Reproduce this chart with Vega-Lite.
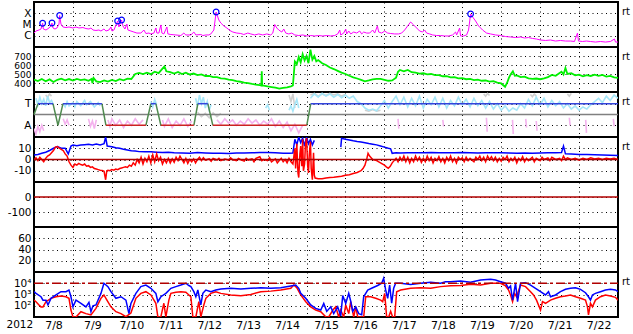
{
"$schema": "https://vega.github.io/schema/vega-lite/v6.json",
"padding": {"left": 5, "top": 1, "right": 0, "bottom": 0},
"background": "white",
"spacing": 0,
"bounds": "flush",
"datasets": {
"z": [{"d": 8}, {"d": 23}],
"one": [{"k": 1}],
"xr": [{"d":8.0,"l":-5.76},{"d":8.051,"l":-5.58},{"d":8.128,"l":-5.49},{"d":8.18,"l":-5.4},{"d":8.222,"l":-4.89},{"d":8.24,"l":-5.4},{"d":8.308,"l":-5.49},{"d":8.385,"l":-5.31},{"d":8.436,"l":-5.13},{"d":8.462,"l":-4.87},{"d":8.488,"l":-5.31},{"d":8.539,"l":-5.4},{"d":8.59,"l":-5.31},{"d":8.642,"l":-4.96},{"d":8.659,"l":-4.2},{"d":8.693,"l":-4.96},{"d":8.744,"l":-5.22},{"d":8.821,"l":-5.27},{"d":8.898,"l":-5.22},{"d":9.001,"l":-5.31},{"d":9.078,"l":-5.22},{"d":9.155,"l":-5.31},{"d":9.257,"l":-5.27},{"d":9.334,"l":-5.36},{"d":9.411,"l":-5.4},{"d":9.463,"l":-5.31},{"d":9.514,"l":-5.49},{"d":9.591,"l":-5.53},{"d":9.668,"l":-5.49},{"d":9.719,"l":-5.58},{"d":9.796,"l":-5.4},{"d":9.848,"l":-5.58},{"d":9.925,"l":-5.49},{"d":9.976,"l":-5.22},{"d":10.002,"l":-5.58},{"d":10.053,"l":-5.49},{"d":10.148,"l":-4.69},{"d":10.181,"l":-5.22},{"d":10.25,"l":-4.6},{"d":10.284,"l":-5.13},{"d":10.335,"l":-5.4},{"d":10.386,"l":-4.96},{"d":10.412,"l":-5.49},{"d":10.489,"l":-5.58},{"d":10.566,"l":-5.67},{"d":10.643,"l":-5.76},{"d":10.745,"l":-5.76},{"d":10.822,"l":-5.49},{"d":10.874,"l":-5.8},{"d":10.951,"l":-5.76},{"d":11.002,"l":-5.84},{"d":11.079,"l":-5.76},{"d":11.13,"l":-5.31},{"d":11.156,"l":-5.76},{"d":11.207,"l":-5.76},{"d":11.259,"l":-5.04},{"d":11.285,"l":-5.76},{"d":11.336,"l":-5.84},{"d":11.413,"l":-5.22},{"d":11.439,"l":-5.84},{"d":11.516,"l":-5.89},{"d":11.644,"l":-5.93},{"d":11.772,"l":-5.98},{"d":11.849,"l":-5.76},{"d":11.9,"l":-5.93},{"d":12.029,"l":-5.93},{"d":12.106,"l":-5.67},{"d":12.157,"l":-5.93},{"d":12.285,"l":-5.89},{"d":12.337,"l":-5.98},{"d":12.414,"l":-5.93},{"d":12.491,"l":-5.93},{"d":12.542,"l":-5.84},{"d":12.619,"l":-5.49},{"d":12.678,"l":-3.89},{"d":12.747,"l":-4.6},{"d":12.799,"l":-4.87},{"d":12.876,"l":-5.13},{"d":12.953,"l":-5.31},{"d":13.03,"l":-5.53},{"d":13.107,"l":-5.67},{"d":13.209,"l":-5.76},{"d":13.312,"l":-5.8},{"d":13.389,"l":-5.89},{"d":13.491,"l":-5.76},{"d":13.568,"l":-5.84},{"d":13.671,"l":-5.93},{"d":13.774,"l":-5.84},{"d":13.876,"l":-5.93},{"d":13.979,"l":-5.84},{"d":14.082,"l":-5.93},{"d":14.133,"l":-5.76},{"d":14.184,"l":-5.0},{"d":14.236,"l":-5.31},{"d":14.287,"l":-5.49},{"d":14.364,"l":-5.67},{"d":14.415,"l":-5.4},{"d":14.466,"l":-5.76},{"d":14.544,"l":-5.84},{"d":14.621,"l":-5.76},{"d":14.698,"l":-5.93},{"d":14.8,"l":-5.98},{"d":14.903,"l":-5.93},{"d":15.006,"l":-6.02},{"d":15.108,"l":-5.98},{"d":15.211,"l":-6.02},{"d":15.314,"l":-5.98},{"d":15.416,"l":-6.02},{"d":15.519,"l":-5.98},{"d":15.622,"l":-6.02},{"d":15.725,"l":-5.98},{"d":15.801,"l":-5.84},{"d":15.853,"l":-5.49},{"d":15.878,"l":-5.93},{"d":15.955,"l":-5.76},{"d":16.007,"l":-5.4},{"d":16.032,"l":-5.84},{"d":16.084,"l":-5.58},{"d":16.135,"l":-5.84},{"d":16.212,"l":-5.67},{"d":16.289,"l":-5.76},{"d":16.366,"l":-5.58},{"d":16.417,"l":-5.84},{"d":16.468,"l":-5.67},{"d":16.545,"l":-5.76},{"d":16.622,"l":-5.76},{"d":16.699,"l":-5.49},{"d":16.751,"l":-5.76},{"d":16.82,"l":-5.13},{"d":16.853,"l":-5.67},{"d":16.93,"l":-5.76},{"d":17.007,"l":-5.58},{"d":17.084,"l":-5.76},{"d":17.161,"l":-5.8},{"d":17.264,"l":-5.84},{"d":17.366,"l":-5.84},{"d":17.443,"l":-5.76},{"d":17.52,"l":-5.49},{"d":17.597,"l":-5.13},{"d":17.674,"l":-4.78},{"d":17.751,"l":-5.04},{"d":17.828,"l":-5.31},{"d":17.905,"l":-5.58},{"d":17.982,"l":-5.67},{"d":18.033,"l":-5.49},{"d":18.085,"l":-5.76},{"d":18.162,"l":-5.84},{"d":18.239,"l":-5.93},{"d":18.341,"l":-5.98},{"d":18.444,"l":-5.98},{"d":18.547,"l":-6.02},{"d":18.649,"l":-6.02},{"d":18.752,"l":-5.93},{"d":18.829,"l":-5.67},{"d":18.855,"l":-5.93},{"d":18.932,"l":-5.31},{"d":18.957,"l":-6.02},{"d":19.034,"l":-6.02},{"d":19.111,"l":-5.93},{"d":19.162,"l":-5.49},{"d":19.214,"l":-4.07},{"d":19.265,"l":-4.33},{"d":19.342,"l":-4.69},{"d":19.419,"l":-5.13},{"d":19.522,"l":-5.49},{"d":19.624,"l":-5.76},{"d":19.727,"l":-5.84},{"d":19.855,"l":-5.93},{"d":19.984,"l":-5.98},{"d":20.112,"l":-6.07},{"d":20.24,"l":-6.11},{"d":20.369,"l":-6.16},{"d":20.497,"l":-6.11},{"d":20.6,"l":-6.2},{"d":20.702,"l":-6.16},{"d":20.805,"l":-6.24},{"d":20.907,"l":-6.29},{"d":21.01,"l":-6.38},{"d":21.138,"l":-6.42},{"d":21.267,"l":-6.38},{"d":21.395,"l":-6.47},{"d":21.523,"l":-6.42},{"d":21.652,"l":-6.47},{"d":21.78,"l":-6.47},{"d":21.882,"l":-6.51},{"d":21.959,"l":-5.76},{"d":21.985,"l":-6.47},{"d":22.088,"l":-6.51},{"d":22.19,"l":-6.47},{"d":22.293,"l":-6.51},{"d":22.421,"l":-6.56},{"d":22.55,"l":-6.51},{"d":22.678,"l":-6.56},{"d":22.806,"l":-6.51},{"d":22.909,"l":-6.29},{"d":22.935,"l":-6.56},{"d":23.0,"l":-6.56}],
"fl": [{"d":8.222,"l":-4.89},{"d":8.462,"l":-4.87},{"d":8.659,"l":-4.2},{"d":10.148,"l":-4.69},{"d":10.25,"l":-4.6},{"d":12.678,"l":-3.89},{"d":19.214,"l":-4.07}],
"sw": [{"d":8.0,"v":438},{"d":8.1,"v":422},{"d":8.2,"v":445},{"d":8.3,"v":420},{"d":8.4,"v":440},{"d":8.5,"v":412},{"d":8.6,"v":436},{"d":8.7,"v":448},{"d":8.8,"v":430},{"d":8.9,"v":444},{"d":9.0,"v":428},{"d":9.1,"v":445},{"d":9.2,"v":432},{"d":9.3,"v":440},{"d":9.4,"v":425},{"d":9.48,"v":445},{"d":9.5,"v":398},{"d":9.53,"v":455},{"d":9.6,"v":418},{"d":9.7,"v":410},{"d":9.8,"v":428},{"d":9.9,"v":415},{"d":10.0,"v":435},{"d":10.1,"v":422},{"d":10.2,"v":442},{"d":10.3,"v":430},{"d":10.4,"v":448},{"d":10.5,"v":445},{"d":10.6,"v":500},{"d":10.7,"v":512},{"d":10.8,"v":500},{"d":10.9,"v":515},{"d":11.0,"v":498},{"d":11.1,"v":525},{"d":11.2,"v":510},{"d":11.3,"v":560},{"d":11.35,"v":585},{"d":11.4,"v":530},{"d":11.5,"v":520},{"d":11.6,"v":505},{"d":11.7,"v":522},{"d":11.8,"v":500},{"d":11.9,"v":515},{"d":12.0,"v":495},{"d":12.1,"v":505},{"d":12.2,"v":488},{"d":12.3,"v":495},{"d":12.4,"v":478},{"d":12.5,"v":480},{"d":12.6,"v":465},{"d":12.7,"v":466},{"d":12.8,"v":452},{"d":12.9,"v":448},{"d":13.0,"v":438},{"d":13.1,"v":432},{"d":13.2,"v":422},{"d":13.3,"v":414},{"d":13.4,"v":405},{"d":13.5,"v":398},{"d":13.6,"v":390},{"d":13.7,"v":383},{"d":13.8,"v":376},{"d":13.84,"v":372},{"d":13.85,"v":530},{"d":13.86,"v":372},{"d":13.9,"v":370},{"d":14.0,"v":362},{"d":14.1,"v":355},{"d":14.2,"v":348},{"d":14.3,"v":338},{"d":14.4,"v":345},{"d":14.5,"v":352},{"d":14.6,"v":362},{"d":14.65,"v":372},{"d":14.7,"v":640},{"d":14.75,"v":610},{"d":14.8,"v":690},{"d":14.85,"v":630},{"d":14.9,"v":720},{"d":14.95,"v":650},{"d":15.0,"v":700},{"d":15.05,"v":620},{"d":15.1,"v":770},{"d":15.15,"v":660},{"d":15.2,"v":700},{"d":15.25,"v":640},{"d":15.3,"v":655},{"d":15.4,"v":620},{"d":15.5,"v":600},{"d":15.6,"v":572},{"d":15.7,"v":555},{"d":15.8,"v":535},{"d":15.9,"v":515},{"d":16.0,"v":500},{"d":16.1,"v":480},{"d":16.2,"v":462},{"d":16.3,"v":450},{"d":16.4,"v":435},{"d":16.5,"v":418},{"d":16.6,"v":428},{"d":16.7,"v":440},{"d":16.8,"v":445},{"d":16.9,"v":446},{"d":17.0,"v":436},{"d":17.1,"v":425},{"d":17.2,"v":428},{"d":17.3,"v":460},{"d":17.35,"v":525},{"d":17.4,"v":545},{"d":17.5,"v":530},{"d":17.6,"v":545},{"d":17.7,"v":520},{"d":17.8,"v":515},{"d":17.9,"v":505},{"d":18.0,"v":508},{"d":18.1,"v":495},{"d":18.2,"v":500},{"d":18.3,"v":488},{"d":18.4,"v":488},{"d":18.5,"v":475},{"d":18.6,"v":476},{"d":18.7,"v":462},{"d":18.8,"v":465},{"d":18.9,"v":452},{"d":19.0,"v":455},{"d":19.1,"v":442},{"d":19.2,"v":445},{"d":19.3,"v":432},{"d":19.4,"v":438},{"d":19.5,"v":425},{"d":19.6,"v":428},{"d":19.7,"v":415},{"d":19.8,"v":420},{"d":19.9,"v":405},{"d":20.0,"v":395},{"d":20.1,"v":358},{"d":20.15,"v":400},{"d":20.2,"v":460},{"d":20.25,"v":500},{"d":20.3,"v":530},{"d":20.35,"v":480},{"d":20.4,"v":485},{"d":20.5,"v":465},{"d":20.6,"v":470},{"d":20.7,"v":452},{"d":20.8,"v":445},{"d":20.9,"v":450},{"d":21.0,"v":442},{"d":21.1,"v":452},{"d":21.2,"v":465},{"d":21.3,"v":490},{"d":21.4,"v":480},{"d":21.5,"v":510},{"d":21.55,"v":525},{"d":21.6,"v":495},{"d":21.65,"v":566},{"d":21.7,"v":500},{"d":21.8,"v":508},{"d":21.9,"v":485},{"d":22.0,"v":492},{"d":22.1,"v":475},{"d":22.2,"v":488},{"d":22.3,"v":478},{"d":22.4,"v":492},{"d":22.5,"v":480},{"d":22.6,"v":490},{"d":22.7,"v":472},{"d":22.8,"v":478},{"d":22.9,"v":462},{"d":23.0,"v":458}],
"secT": [{"d":8.103,"s":1,"g":1},{"d":8.488,"s":1,"g":1},{"d":8.744,"s":1,"g":2},{"d":9.745,"s":1,"g":2},{"d":11.002,"s":1,"g":3},{"d":11.13,"s":1,"g":3},{"d":12.208,"s":1,"g":4},{"d":12.465,"s":1,"g":4},{"d":15.108,"s":1,"g":5},{"d":23,"s":1,"g":5}],
"secA": [{"d":9.848,"s":-1,"g":1},{"d":10.874,"s":-1,"g":1},{"d":11.259,"s":-1,"g":2},{"d":12.106,"s":-1,"g":2},{"d":12.593,"s":-1,"g":3},{"d":15.006,"s":-1,"g":3}],
"secG": [{"d":8.0,"s":0,"g":1},{"d":8.103,"s":1,"g":1},{"d":8.488,"s":1,"g":2},{"d":8.616,"s":-1,"g":2},{"d":8.744,"s":1,"g":2},{"d":9.745,"s":1,"g":3},{"d":9.848,"s":-1,"g":3},{"d":10.874,"s":-1,"g":4},{"d":11.002,"s":1,"g":4},{"d":11.13,"s":1,"g":5},{"d":11.259,"s":-1,"g":5},{"d":12.106,"s":-1,"g":6},{"d":12.208,"s":1,"g":6},{"d":12.465,"s":1,"g":7},{"d":12.593,"s":-1,"g":7},{"d":15.006,"s":-1,"g":8},{"d":15.108,"s":1,"g":8}],
"lb": [{"d":8.05,"s":1.5,"g":1},{"d":8.1,"s":0.9,"g":1},{"d":8.15,"s":1.6,"g":1},{"d":8.2,"s":1.0,"g":1},{"d":8.25,"s":1.4,"g":1},{"d":8.3,"s":0.8,"g":1},{"d":8.35,"s":1.7,"g":1},{"d":8.4,"s":1.1,"g":1},{"d":8.45,"s":1.3,"g":1},{"d":8.5,"s":0.9,"g":1},
{"d":8.75,"s":1.0,"g":2},{"d":8.8,"s":0.7,"g":2},{"d":8.85,"s":1.2,"g":2},{"d":8.9,"s":0.8,"g":2},{"d":9.0,"s":1.1,"g":2},{"d":9.05,"s":0.7,"g":2},{"d":9.1,"s":1.2,"g":2},{"d":9.2,"s":0.8,"g":2},{"d":9.3,"s":1.3,"g":2},{"d":9.35,"s":0.9,"g":2},{"d":9.45,"s":1.2,"g":2},{"d":9.55,"s":0.7,"g":2},{"d":9.65,"s":1.1,"g":2},{"d":9.7,"s":0.8,"g":2},
{"d":11.0,"s":1.2,"g":3},{"d":11.05,"s":0.7,"g":3},{"d":11.1,"s":1.4,"g":3},{"d":11.15,"s":0.9,"g":3},
{"d":12.15,"s":1.5,"g":4},{"d":12.2,"s":0.8,"g":4},{"d":12.25,"s":1.8,"g":4},{"d":12.3,"s":1.0,"g":4},{"d":12.35,"s":1.6,"g":4},{"d":12.4,"s":0.6,"g":4},{"d":12.45,"s":1.2,"g":4},{"d":12.5,"s":0.4,"g":4},{"d":12.55,"s":0.9,"g":4},
{"d":13.95,"s":0.6,"g":5},{"d":14.0,"s":0.9,"g":5},{"d":14.05,"s":0.4,"g":5},
{"d":14.55,"s":0.4,"g":6},{"d":14.6,"s":0.8,"g":6},{"d":14.65,"s":0.3,"g":6},{"d":14.7,"s":0.9,"g":6},{"d":14.75,"s":1.4,"g":6},{"d":14.8,"s":0.6,"g":6},
{"d":15.1,"s":1.5,"g":7},{"d":15.2,"s":1.9,"g":7},{"d":15.3,"s":1.6,"g":7},{"d":15.4,"s":1.95,"g":7},{"d":15.5,"s":1.7,"g":7},{"d":15.6,"s":1.9,"g":7},{"d":15.7,"s":1.6,"g":7},{"d":15.8,"s":1.85,"g":7},{"d":15.9,"s":1.55,"g":7},{"d":16.0,"s":1.8,"g":7},{"d":16.1,"s":1.5,"g":7},{"d":16.2,"s":1.7,"g":7},{"d":16.3,"s":1.2,"g":7},{"d":16.4,"s":1.0,"g":7},{"d":16.5,"s":0.6,"g":7},{"d":16.6,"s":0.4,"g":7},{"d":16.7,"s":0.5,"g":7},{"d":16.8,"s":0.35,"g":7},{"d":16.9,"s":0.8,"g":7},{"d":17.0,"s":1.3,"g":7},{"d":17.1,"s":0.6,"g":7},{"d":17.2,"s":1.2,"g":7},{"d":17.3,"s":1.7,"g":7},{"d":17.4,"s":0.9,"g":7},{"d":17.5,"s":1.6,"g":7},{"d":17.6,"s":0.7,"g":7},{"d":17.7,"s":1.5,"g":7},{"d":17.8,"s":0.8,"g":7},{"d":17.9,"s":1.7,"g":7},{"d":18.0,"s":0.6,"g":7},{"d":18.1,"s":1.4,"g":7},{"d":18.2,"s":0.9,"g":7},{"d":18.3,"s":1.6,"g":7},{"d":18.4,"s":0.7,"g":7},{"d":18.5,"s":1.5,"g":7},{"d":18.6,"s":0.6,"g":7},{"d":18.7,"s":1.3,"g":7},{"d":18.8,"s":0.8,"g":7},{"d":18.9,"s":1.6,"g":7},{"d":19.0,"s":0.9,"g":7},{"d":19.1,"s":1.4,"g":7},{"d":19.2,"s":0.7,"g":7},{"d":19.3,"s":1.5,"g":7},{"d":19.4,"s":0.8,"g":7},{"d":19.5,"s":1.3,"g":7},{"d":19.6,"s":0.6,"g":7},{"d":19.7,"s":1.2,"g":7},{"d":19.8,"s":0.5,"g":7},{"d":19.9,"s":1.0,"g":7},{"d":20.0,"s":0.4,"g":7},{"d":20.1,"s":0.8,"g":7},{"d":20.2,"s":0.3,"g":7},{"d":20.3,"s":0.6,"g":7},{"d":20.4,"s":0.4,"g":7},{"d":20.5,"s":1.0,"g":7},{"d":20.6,"s":0.6,"g":7},{"d":20.7,"s":1.4,"g":7},{"d":20.8,"s":0.8,"g":7},{"d":20.9,"s":1.6,"g":7},{"d":21.0,"s":0.9,"g":7},{"d":21.1,"s":1.5,"g":7},{"d":21.2,"s":0.7,"g":7},{"d":21.3,"s":1.3,"g":7},{"d":21.4,"s":0.8,"g":7},{"d":21.5,"s":1.2,"g":7},{"d":21.6,"s":0.6,"g":7},{"d":21.7,"s":1.0,"g":7},{"d":21.8,"s":0.5,"g":7},{"d":21.9,"s":0.8,"g":7},{"d":22.0,"s":0.4,"g":7},{"d":22.1,"s":0.7,"g":7},{"d":22.2,"s":0.5,"g":7},{"d":22.3,"s":0.9,"g":7},{"d":22.4,"s":1.2,"g":7},{"d":22.5,"s":1.5,"g":7},{"d":22.6,"s":1.1,"g":7},{"d":22.7,"s":1.7,"g":7},{"d":22.8,"s":1.3,"g":7},{"d":22.9,"s":1.8,"g":7},{"d":23.0,"s":1.5,"g":7}],
"pk": [{"d":8.0,"s":-1.3,"g":1},{"d":8.05,"s":-1.8,"g":1},{"d":8.1,"s":-1.1,"g":1},{"d":8.15,"s":-1.6,"g":1},{"d":8.2,"s":-1.0,"g":1},{"d":8.25,"s":-1.5,"g":1},
{"d":8.75,"s":-0.4,"g":2},{"d":8.8,"s":-0.9,"g":2},{"d":8.85,"s":-0.5,"g":2},{"d":8.9,"s":-1.0,"g":2},
{"d":9.4,"s":-0.4,"g":3},{"d":9.45,"s":-1.1,"g":3},{"d":9.5,"s":-0.6,"g":3},{"d":9.55,"s":-1.3,"g":3},{"d":9.6,"s":-0.5,"g":3},
{"d":9.9,"s":-0.5,"g":4},{"d":9.95,"s":-1.1,"g":4},{"d":10.0,"s":-0.4,"g":4},{"d":10.1,"s":-1.0,"g":4},{"d":10.2,"s":-0.5,"g":4},{"d":10.3,"s":-1.2,"g":4},{"d":10.4,"s":-0.6,"g":4},{"d":10.5,"s":-1.0,"g":4},{"d":10.6,"s":-0.4,"g":4},{"d":10.7,"s":-0.9,"g":4},{"d":10.8,"s":-0.5,"g":4},
{"d":11.3,"s":-0.5,"g":5},{"d":11.35,"s":-1.1,"g":5},{"d":11.45,"s":-0.4,"g":5},{"d":11.55,"s":-1.2,"g":5},{"d":11.65,"s":-0.6,"g":5},{"d":11.75,"s":-1.0,"g":5},{"d":11.85,"s":-0.4,"g":5},{"d":11.95,"s":-1.1,"g":5},{"d":12.05,"s":-0.6,"g":5},
{"d":12.7,"s":-0.5,"g":6},{"d":12.8,"s":-0.9,"g":6},{"d":12.9,"s":-0.4,"g":6},{"d":13.0,"s":-0.8,"g":6},{"d":13.1,"s":-0.5,"g":6},{"d":13.2,"s":-1.0,"g":6},{"d":13.3,"s":-0.6,"g":6},{"d":13.4,"s":-0.9,"g":6},{"d":13.5,"s":-0.4,"g":6},{"d":13.6,"s":-0.8,"g":6},{"d":13.7,"s":-0.5,"g":6},{"d":13.8,"s":-1.0,"g":6},{"d":13.9,"s":-0.6,"g":6},{"d":14.0,"s":-0.9,"g":6},{"d":14.1,"s":-0.4,"g":6},{"d":14.2,"s":-1.1,"g":6},{"d":14.3,"s":-0.6,"g":6},{"d":14.4,"s":-1.2,"g":6},{"d":14.5,"s":-0.7,"g":6},{"d":14.6,"s":-1.5,"g":6},{"d":14.7,"s":-0.9,"g":6},{"d":14.8,"s":-1.7,"g":6},{"d":14.9,"s":-1.0,"g":6},
{"d":17.35,"s":-0.4,"g":7},{"d":17.37,"s":-1.3,"g":7},
{"d":18.5,"s":-0.5,"g":8},{"d":18.52,"s":-1.1,"g":8},
{"d":19.62,"s":-0.3,"g":9},{"d":19.64,"s":-1.6,"g":9},
{"d":20.29,"s":-0.5,"g":10},{"d":20.31,"s":-1.8,"g":10},
{"d":20.63,"s":-0.4,"g":11},{"d":20.65,"s":-1.2,"g":11},
{"d":20.9,"s":-0.6,"g":12},{"d":20.92,"s":-1.5,"g":12},
{"d":21.75,"s":-0.3,"g":13},{"d":21.77,"s":-1.0,"g":13},
{"d":22.17,"s":-0.5,"g":14},{"d":22.19,"s":-1.7,"g":14},
{"d":22.88,"s":-0.4,"g":15},{"d":22.9,"s":-1.1,"g":15}],
"gy": [{"d":8.3,"s":1.8,"g":1},{"d":8.35,"s":1.6,"g":1},{"d":8.4,"s":1.9,"g":1},{"d":8.45,"s":1.7,"g":1},
{"d":12.2,"s":0.2,"g":2},{"d":12.3,"s":-0.2,"g":2},{"d":12.4,"s":0.1,"g":2},{"d":12.5,"s":-0.3,"g":2},{"d":12.6,"s":0.15,"g":2},{"d":12.7,"s":-0.2,"g":2},{"d":12.8,"s":0.1,"g":2},
{"d":15.1,"s":1.8,"g":3},{"d":15.2,"s":1.95,"g":3},{"d":15.3,"s":1.7,"g":3},{"d":15.4,"s":1.9,"g":3},{"d":15.5,"s":1.75,"g":3},{"d":15.6,"s":1.95,"g":3},{"d":15.7,"s":1.8,"g":3},{"d":15.8,"s":1.9,"g":3},{"d":15.9,"s":1.7,"g":3},{"d":16.0,"s":1.85,"g":3},
{"d":16.5,"s":0.4,"g":4},{"d":16.6,"s":0.3,"g":4},{"d":16.7,"s":0.45,"g":4},{"d":16.8,"s":0.3,"g":4},{"d":16.9,"s":0.4,"g":4},
{"d":19.55,"s":1.9,"g":5},{"d":19.6,"s":1.7,"g":5},{"d":19.65,"s":1.95,"g":5},{"d":19.7,"s":1.75,"g":5},
{"d":20.75,"s":1.85,"g":6},{"d":20.8,"s":1.65,"g":6},{"d":20.85,"s":1.9,"g":6},{"d":20.9,"s":1.7,"g":6},
{"d":21.7,"s":1.9,"g":7},{"d":21.75,"s":1.7,"g":7},{"d":21.8,"s":1.95,"g":7},
{"d":14.55,"s":1.8,"g":8},{"d":14.6,"s":1.2,"g":8},{"d":14.65,"s":1.9,"g":8},{"d":14.7,"s":0.6,"g":8}],
"bt": [{"d":8.0,"b":4,"g":1},{"d":8.1,"b":4.5,"g":1},{"d":8.2,"b":5.5,"g":1},{"d":8.3,"b":6.5,"g":1},{"d":8.4,"b":8,"g":1},{"d":8.5,"b":10,"g":1},{"d":8.6,"b":11.5,"g":1},{"d":8.7,"b":10,"g":1},{"d":8.8,"b":10,"g":1},{"d":8.88,"b":5,"g":1},{"d":8.95,"b":12,"g":1},{"d":9.0,"b":12.9,"g":1},{"d":9.1,"b":12.2,"g":1},{"d":9.2,"b":12.8,"g":1},{"d":9.3,"b":13.2,"g":1},{"d":9.4,"b":13.5,"g":1},{"d":9.5,"b":13,"g":1},{"d":9.6,"b":13.8,"g":1},{"d":9.7,"b":13,"g":1},{"d":9.8,"b":14,"g":1},{"d":9.84,"b":20,"g":1},{"d":9.88,"b":12,"g":1},{"d":10.0,"b":11.4,"g":1},{"d":10.1,"b":10.5,"g":1},{"d":10.2,"b":10,"g":1},{"d":10.3,"b":9.2,"g":1},{"d":10.4,"b":8.5,"g":1},{"d":10.5,"b":7.8,"g":1},{"d":10.6,"b":7.5,"g":1},{"d":10.7,"b":7,"g":1},{"d":10.85,"b":6.8,"g":1},{"d":11.0,"b":6.9,"g":1},{"d":11.15,"b":6.5,"g":1},{"d":11.3,"b":6.2,"g":1},{"d":11.45,"b":6.4,"g":1},{"d":11.6,"b":6,"g":1},{"d":11.8,"b":5.8,"g":1},{"d":12.0,"b":5.6,"g":1},{"d":12.2,"b":6.2,"g":1},{"d":12.4,"b":5.8,"g":1},{"d":12.6,"b":5.5,"g":1},{"d":12.8,"b":5.6,"g":1},{"d":13.0,"b":5.4,"g":1},{"d":13.2,"b":5.8,"g":1},{"d":13.4,"b":5.7,"g":1},{"d":13.6,"b":6,"g":1},{"d":13.8,"b":6.2,"g":1},{"d":14.0,"b":6.3,"g":1},{"d":14.2,"b":5.9,"g":1},{"d":14.4,"b":5.5,"g":1},{"d":14.55,"b":5.6,"g":1},{"d":14.65,"b":5.8,"g":1},{"d":14.7,"b":18,"g":1},{"d":14.75,"b":13,"g":1},{"d":14.8,"b":20,"g":1},{"d":14.85,"b":15,"g":1},{"d":14.9,"b":19,"g":1},{"d":14.95,"b":12,"g":1},{"d":15.0,"b":20,"g":1},{"d":15.05,"b":14,"g":1},{"d":15.1,"b":18,"g":1},{"d":15.15,"b":13,"g":1},{"d":15.2,"b":17,"g":1},
{"d":15.88,"b":11,"g":2},{"d":15.9,"b":18.8,"g":2},{"d":16.0,"b":18,"g":2},{"d":16.1,"b":17.4,"g":2},{"d":16.2,"b":16.6,"g":2},{"d":16.3,"b":16,"g":2},{"d":16.4,"b":15.5,"g":2},{"d":16.5,"b":14.9,"g":2},{"d":16.6,"b":14.2,"g":2},{"d":16.7,"b":13.6,"g":2},{"d":16.8,"b":13,"g":2},{"d":16.9,"b":12,"g":2},{"d":17.0,"b":11,"g":2},{"d":17.1,"b":10,"g":2},{"d":17.16,"b":9.5,"g":2},{"d":17.2,"b":5.5,"g":2},{"d":17.3,"b":6,"g":2},{"d":17.4,"b":5.8,"g":2},{"d":17.6,"b":6.1,"g":2},{"d":17.8,"b":5.9,"g":2},{"d":18.0,"b":6,"g":2},{"d":18.2,"b":6.2,"g":2},{"d":18.4,"b":5.9,"g":2},{"d":18.6,"b":6.1,"g":2},{"d":18.8,"b":6,"g":2},{"d":19.0,"b":6.2,"g":2},{"d":19.2,"b":6,"g":2},{"d":19.4,"b":5.8,"g":2},{"d":19.6,"b":6.1,"g":2},{"d":19.8,"b":5.9,"g":2},{"d":20.0,"b":6,"g":2},{"d":20.2,"b":5.7,"g":2},{"d":20.4,"b":5.5,"g":2},{"d":20.6,"b":5.8,"g":2},{"d":20.8,"b":5.6,"g":2},{"d":21.0,"b":5.8,"g":2},{"d":21.2,"b":6,"g":2},{"d":21.4,"b":6,"g":2},{"d":21.55,"b":6.2,"g":2},{"d":21.6,"b":12,"g":2},{"d":21.65,"b":5,"g":2},{"d":21.8,"b":4.8,"g":2},{"d":22.0,"b":4.5,"g":2},{"d":22.2,"b":4.4,"g":2},{"d":22.4,"b":4.2,"g":2},{"d":22.6,"b":4,"g":2},{"d":22.8,"b":3.8,"g":2},{"d":23.0,"b":3.5,"g":2}],
"bz": [{"d":8.0,"b":-0.5},{"d":8.05,"b":1.5},{"d":8.1,"b":-1},{"d":8.15,"b":2},{"d":8.2,"b":0},{"d":8.25,"b":-2},{"d":8.3,"b":1},{"d":8.35,"b":3},{"d":8.4,"b":4},{"d":8.45,"b":6},{"d":8.5,"b":8},{"d":8.55,"b":11},{"d":8.6,"b":11.5},{"d":8.65,"b":10},{"d":8.7,"b":9},{"d":8.75,"b":8},{"d":8.8,"b":5},{"d":8.85,"b":3},{"d":8.9,"b":-2},{"d":8.95,"b":-5},{"d":9.0,"b":-7},{"d":9.05,"b":-4},{"d":9.1,"b":-5},{"d":9.15,"b":-3.5},{"d":9.2,"b":-4.5},{"d":9.25,"b":-5},{"d":9.3,"b":-4},{"d":9.35,"b":-6},{"d":9.4,"b":-5.5},{"d":9.45,"b":-7},{"d":9.5,"b":-6.5},{"d":9.55,"b":-8},{"d":9.6,"b":-8.5},{"d":9.65,"b":-9},{"d":9.7,"b":-9.5},{"d":9.75,"b":-9.8},{"d":9.8,"b":-10.5},{"d":9.84,"b":-18},{"d":9.87,"b":-10},{"d":9.9,"b":-9.5},{"d":9.95,"b":-10},{"d":10.0,"b":-9},{"d":10.05,"b":-9.5},{"d":10.1,"b":-8.5},{"d":10.15,"b":-9},{"d":10.2,"b":-8},{"d":10.25,"b":-7.5},{"d":10.3,"b":-7},{"d":10.35,"b":-6.5},{"d":10.4,"b":-7},{"d":10.45,"b":-5},{"d":10.5,"b":-6},{"d":10.55,"b":-3},{"d":10.6,"b":-5},{"d":10.65,"b":0},{"d":10.7,"b":-3},{"d":10.75,"b":2},{"d":10.8,"b":-4},{"d":10.85,"b":1},{"d":10.9,"b":-2},{"d":10.95,"b":3},{"d":11.0,"b":-3},{"d":11.05,"b":4},{"d":11.1,"b":-2},{"d":11.15,"b":5},{"d":11.2,"b":-1},{"d":11.25,"b":2},{"d":11.3,"b":-4},{"d":11.35,"b":0},{"d":11.4,"b":-3},{"d":11.45,"b":1},{"d":11.5,"b":-3},{"d":11.55,"b":0.5},{"d":11.6,"b":-2.5},{"d":11.65,"b":2},{"d":11.7,"b":-1},{"d":11.75,"b":3},{"d":11.8,"b":0},{"d":11.85,"b":-3},{"d":11.9,"b":1},{"d":11.95,"b":-3.5},{"d":12.0,"b":0},{"d":12.05,"b":-2},{"d":12.1,"b":0.5},{"d":12.15,"b":-3},{"d":12.2,"b":0},{"d":12.25,"b":2},{"d":12.3,"b":-1},{"d":12.35,"b":1.5},{"d":12.4,"b":-0.5},{"d":12.5,"b":0.5},{"d":12.55,"b":-1.5},{"d":12.6,"b":1},{"d":12.7,"b":-0.5},{"d":12.75,"b":1},{"d":12.8,"b":-1},{"d":12.9,"b":0.5},{"d":13.0,"b":-0.5},{"d":13.05,"b":1.5},{"d":13.1,"b":0},{"d":13.2,"b":-1},{"d":13.25,"b":1},{"d":13.3,"b":0},{"d":13.4,"b":-1.5},{"d":13.45,"b":1},{"d":13.5,"b":-0.5},{"d":13.6,"b":0.5},{"d":13.65,"b":-2},{"d":13.7,"b":1},{"d":13.8,"b":2.5},{"d":13.85,"b":-1},{"d":13.9,"b":0},{"d":14.0,"b":-1},{"d":14.05,"b":1.5},{"d":14.1,"b":-2},{"d":14.2,"b":0.5},{"d":14.25,"b":-3},{"d":14.3,"b":-1},{"d":14.35,"b":1},{"d":14.4,"b":-2},{"d":14.45,"b":0},{"d":14.5,"b":-3},{"d":14.55,"b":1},{"d":14.6,"b":-2},{"d":14.65,"b":-4},{"d":14.7,"b":10},{"d":14.72,"b":-8},{"d":14.75,"b":14},{"d":14.78,"b":-12},{"d":14.8,"b":-16},{"d":14.83,"b":5},{"d":14.85,"b":12},{"d":14.88,"b":-6},{"d":14.9,"b":18},{"d":14.92,"b":-10},{"d":14.95,"b":-4},{"d":14.97,"b":12},{"d":15.0,"b":19},{"d":15.03,"b":-6},{"d":15.05,"b":-12},{"d":15.07,"b":4},{"d":15.1,"b":16},{"d":15.12,"b":-8},{"d":15.15,"b":-18},{"d":15.18,"b":6},{"d":15.2,"b":-14},{"d":15.22,"b":-16.5},{"d":15.3,"b":-17},{"d":15.4,"b":-17},{"d":15.5,"b":-16.5},{"d":15.6,"b":-16},{"d":15.7,"b":-15.8},{"d":15.8,"b":-15.3},{"d":15.9,"b":-14.8},{"d":16.0,"b":-14},{"d":16.1,"b":-13.5},{"d":16.2,"b":-12.5},{"d":16.3,"b":-11.5},{"d":16.4,"b":-10},{"d":16.45,"b":-8},{"d":16.5,"b":-5},{"d":16.55,"b":1},{"d":16.58,"b":5.5},{"d":16.62,"b":3},{"d":16.7,"b":0},{"d":16.8,"b":-1},{"d":16.9,"b":-3},{"d":17.0,"b":-5},{"d":17.05,"b":-6.5},{"d":17.1,"b":-7.8},{"d":17.15,"b":-6},{"d":17.2,"b":-3},{"d":17.25,"b":-1},{"d":17.3,"b":1},{"d":17.35,"b":-2},{"d":17.4,"b":2},{"d":17.45,"b":-1},{"d":17.5,"b":3},{"d":17.55,"b":-2},{"d":17.6,"b":2},{"d":17.65,"b":-3},{"d":17.7,"b":1},{"d":17.75,"b":-2},{"d":17.8,"b":3},{"d":17.85,"b":-1},{"d":17.9,"b":2},{"d":17.95,"b":-2.5},{"d":18.0,"b":1},{"d":18.05,"b":-2},{"d":18.1,"b":3},{"d":18.15,"b":-1},{"d":18.2,"b":2},{"d":18.25,"b":-3},{"d":18.3,"b":1},{"d":18.35,"b":-1},{"d":18.4,"b":2.5},{"d":18.45,"b":-2},{"d":18.5,"b":1},{"d":18.55,"b":-3},{"d":18.6,"b":2},{"d":18.65,"b":-1},{"d":18.7,"b":3},{"d":18.75,"b":-2},{"d":18.8,"b":1},{"d":18.85,"b":-3},{"d":18.9,"b":2},{"d":18.95,"b":0},{"d":19.0,"b":1.5},{"d":19.05,"b":-2},{"d":19.1,"b":2},{"d":19.15,"b":-1},{"d":19.2,"b":1},{"d":19.3,"b":-2},{"d":19.35,"b":2},{"d":19.4,"b":0},{"d":19.45,"b":3},{"d":19.5,"b":-1},{"d":19.55,"b":2},{"d":19.6,"b":-2},{"d":19.65,"b":3},{"d":19.7,"b":0},{"d":19.75,"b":2.5},{"d":19.8,"b":-1},{"d":19.85,"b":2},{"d":19.9,"b":-2},{"d":19.95,"b":1},{"d":20.0,"b":-1.5},{"d":20.05,"b":2},{"d":20.1,"b":0},{"d":20.15,"b":3},{"d":20.2,"b":-2},{"d":20.25,"b":1},{"d":20.3,"b":-1},{"d":20.35,"b":2},{"d":20.4,"b":-3},{"d":20.45,"b":1},{"d":20.5,"b":-1},{"d":20.55,"b":2.5},{"d":20.6,"b":-2},{"d":20.65,"b":1},{"d":20.7,"b":-1},{"d":20.8,"b":2},{"d":20.85,"b":-2},{"d":20.9,"b":1},{"d":21.0,"b":-1},{"d":21.05,"b":2},{"d":21.1,"b":0},{"d":21.2,"b":1.5},{"d":21.25,"b":-1},{"d":21.3,"b":2},{"d":21.4,"b":0},{"d":21.5,"b":1},{"d":21.55,"b":-1},{"d":21.6,"b":3},{"d":21.65,"b":0},{"d":21.7,"b":1.5},{"d":21.8,"b":0},{"d":21.9,"b":1},{"d":22.0,"b":-0.5},{"d":22.1,"b":1},{"d":22.2,"b":0},{"d":22.3,"b":1.5},{"d":22.4,"b":0.5},{"d":22.5,"b":1},{"d":22.6,"b":0},{"d":22.7,"b":1},{"d":22.8,"b":0.5},{"d":22.9,"b":1},{"d":23.0,"b":0}],
"e1": [{"d":8.0,"e":3.25},{"d":8.051,"e":3.1},{"d":8.18,"e":2.8},{"d":8.231,"e":2.5},{"d":8.308,"e":2.5},{"d":8.359,"e":2.07},{"d":8.436,"e":2.66},{"d":8.565,"e":2.96},{"d":8.693,"e":3.25},{"d":8.821,"e":3.25},{"d":8.898,"e":3.4},{"d":8.949,"e":2.8},{"d":9.001,"e":1.9},{"d":9.078,"e":2.5},{"d":9.206,"e":2.22},{"d":9.334,"e":1.9},{"d":9.411,"e":2.3},{"d":9.463,"e":1.47},{"d":9.514,"e":2.0},{"d":9.591,"e":2.07},{"d":9.719,"e":3.1},{"d":9.796,"e":4.0},{"d":9.899,"e":3.7},{"d":9.976,"e":3.25},{"d":10.104,"e":2.66},{"d":10.233,"e":2.8},{"d":10.361,"e":2.5},{"d":10.438,"e":1.3},{"d":10.489,"e":2.2},{"d":10.617,"e":3.1},{"d":10.745,"e":3.7},{"d":10.874,"e":3.84},{"d":11.002,"e":3.55},{"d":11.13,"e":3.1},{"d":11.182,"e":2.36},{"d":11.259,"e":2.8},{"d":11.387,"e":3.1},{"d":11.516,"e":3.55},{"d":11.644,"e":3.7},{"d":11.772,"e":3.84},{"d":11.9,"e":4.0},{"d":11.977,"e":3.8},{"d":12.029,"e":3.7},{"d":12.106,"e":3.25},{"d":12.157,"e":2.8},{"d":12.208,"e":3.4},{"d":12.285,"e":2.07},{"d":12.337,"e":3.1},{"d":12.414,"e":3.4},{"d":12.542,"e":3.25},{"d":12.67,"e":3.4},{"d":12.799,"e":3.49},{"d":13.055,"e":3.55},{"d":13.312,"e":3.49},{"d":13.568,"e":3.55},{"d":13.825,"e":3.6},{"d":14.082,"e":3.55},{"d":14.338,"e":3.6},{"d":14.595,"e":3.76},{"d":14.723,"e":3.84},{"d":14.8,"e":3.55},{"d":14.851,"e":3.1},{"d":14.98,"e":2.66},{"d":15.108,"e":2.07},{"d":15.236,"e":1.77},{"d":15.365,"e":1.62},{"d":15.442,"e":2.2},{"d":15.519,"e":1.5},{"d":15.622,"e":1.9},{"d":15.698,"e":1.3},{"d":15.801,"e":1.9},{"d":15.878,"e":1.1},{"d":15.93,"e":2.9},{"d":16.007,"e":2.2},{"d":16.084,"e":3.1},{"d":16.135,"e":2.4},{"d":16.186,"e":1.5},{"d":16.263,"e":1.9},{"d":16.34,"e":1.3},{"d":16.417,"e":1.2},{"d":16.468,"e":2.8},{"d":16.571,"e":3.4},{"d":16.699,"e":3.6},{"d":16.827,"e":3.8},{"d":16.93,"e":4.0},{"d":16.981,"e":4.44},{"d":17.033,"e":3.4},{"d":17.084,"e":2.66},{"d":17.135,"e":3.84},{"d":17.187,"e":2.22},{"d":17.238,"e":3.55},{"d":17.289,"e":4.0},{"d":17.418,"e":4.0},{"d":17.674,"e":3.9},{"d":17.931,"e":4.0},{"d":18.187,"e":4.08},{"d":18.444,"e":4.0},{"d":18.572,"e":4.14},{"d":18.701,"e":4.14},{"d":18.957,"e":4.2},{"d":19.214,"e":4.1},{"d":19.47,"e":4.29},{"d":19.727,"e":4.35},{"d":19.855,"e":4.29},{"d":19.984,"e":4.14},{"d":20.112,"e":4.0},{"d":20.189,"e":3.55},{"d":20.24,"e":3.76},{"d":20.292,"e":2.5},{"d":20.369,"e":4.0},{"d":20.42,"e":2.36},{"d":20.497,"e":4.0},{"d":20.625,"e":4.05},{"d":20.754,"e":3.84},{"d":20.882,"e":3.55},{"d":21.01,"e":3.25},{"d":21.138,"e":2.96},{"d":21.215,"e":3.25},{"d":21.267,"e":2.8},{"d":21.395,"e":2.96},{"d":21.523,"e":3.25},{"d":21.652,"e":3.46},{"d":21.78,"e":3.55},{"d":21.908,"e":3.6},{"d":22.037,"e":3.46},{"d":22.165,"e":3.16},{"d":22.242,"e":2.8},{"d":22.293,"e":2.5},{"d":22.344,"e":2.96},{"d":22.421,"e":3.1},{"d":22.55,"e":3.25},{"d":22.678,"e":3.4},{"d":22.806,"e":3.46},{"d":22.935,"e":3.4},{"d":23.0,"e":3.25}],
"e2": [{"d":8.0,"e":2.5},{"d":8.051,"e":2.36},{"d":8.128,"e":2.07},{"d":8.18,"e":1.9},{"d":8.231,"e":1.9},{"d":8.308,"e":2.36},{"d":8.436,"e":2.66},{"d":8.565,"e":2.8},{"d":8.693,"e":2.87},{"d":8.821,"e":2.8},{"d":8.898,"e":2.66},{"d":8.949,"e":1.62},{"d":9.001,"e":1.0},{"d":9.078,"e":1.0},{"d":9.206,"e":1.47},{"d":9.334,"e":1.3},{"d":9.463,"e":1.18},{"d":9.591,"e":1.77},{"d":9.719,"e":2.66},{"d":9.796,"e":2.96},{"d":9.873,"e":2.5},{"d":9.976,"e":1.9},{"d":10.104,"e":1.47},{"d":10.233,"e":1.3},{"d":10.361,"e":1.03},{"d":10.489,"e":1.35},{"d":10.617,"e":2.66},{"d":10.745,"e":3.1},{"d":10.874,"e":3.25},{"d":11.002,"e":2.96},{"d":11.13,"e":2.22},{"d":11.182,"e":1.0},{"d":11.259,"e":1.03},{"d":11.336,"e":2.22},{"d":11.387,"e":1.0},{"d":11.464,"e":2.5},{"d":11.516,"e":3.1},{"d":11.644,"e":3.2},{"d":11.772,"e":3.25},{"d":11.9,"e":3.2},{"d":12.029,"e":2.8},{"d":12.08,"e":1.0},{"d":12.157,"e":1.0},{"d":12.234,"e":2.36},{"d":12.285,"e":1.0},{"d":12.362,"e":2.07},{"d":12.414,"e":2.66},{"d":12.542,"e":3.1},{"d":12.67,"e":3.25},{"d":12.799,"e":3.1},{"d":13.055,"e":2.96},{"d":13.312,"e":2.9},{"d":13.568,"e":3.0},{"d":13.825,"e":3.25},{"d":14.082,"e":3.3},{"d":14.338,"e":3.4},{"d":14.595,"e":3.55},{"d":14.672,"e":3.84},{"d":14.749,"e":3.6},{"d":14.851,"e":2.96},{"d":14.98,"e":2.36},{"d":15.108,"e":1.9},{"d":15.236,"e":1.62},{"d":15.365,"e":1.47},{"d":15.493,"e":1.03},{"d":15.57,"e":1.0},{"d":15.673,"e":1.6},{"d":15.75,"e":1.9},{"d":15.827,"e":1.0},{"d":15.878,"e":1.62},{"d":15.955,"e":1.0},{"d":16.007,"e":2.07},{"d":16.084,"e":1.3},{"d":16.135,"e":2.36},{"d":16.212,"e":1.0},{"d":16.263,"e":1.9},{"d":16.314,"e":1.0},{"d":16.392,"e":1.0},{"d":16.468,"e":1.0},{"d":16.52,"e":2.8},{"d":16.648,"e":2.8},{"d":16.776,"e":2.66},{"d":16.904,"e":2.5},{"d":16.956,"e":2.36},{"d":17.007,"e":3.1},{"d":17.058,"e":1.0},{"d":17.11,"e":1.0},{"d":17.161,"e":1.5},{"d":17.212,"e":1.0},{"d":17.264,"e":1.0},{"d":17.315,"e":3.25},{"d":17.418,"e":3.4},{"d":17.674,"e":3.55},{"d":17.931,"e":3.6},{"d":18.187,"e":3.55},{"d":18.444,"e":3.7},{"d":18.701,"e":3.78},{"d":18.957,"e":3.8},{"d":19.214,"e":3.9},{"d":19.47,"e":3.84},{"d":19.727,"e":4.0},{"d":19.984,"e":4.0},{"d":20.112,"e":3.76},{"d":20.189,"e":3.4},{"d":20.24,"e":2.96},{"d":20.292,"e":2.36},{"d":20.343,"e":3.1},{"d":20.394,"e":2.8},{"d":20.497,"e":3.84},{"d":20.625,"e":3.7},{"d":20.754,"e":3.25},{"d":20.83,"e":2.96},{"d":20.907,"e":2.5},{"d":21.01,"e":1.62},{"d":21.061,"e":2.36},{"d":21.138,"e":2.22},{"d":21.267,"e":2.5},{"d":21.395,"e":2.66},{"d":21.523,"e":2.8},{"d":21.652,"e":2.87},{"d":21.78,"e":2.96},{"d":21.908,"e":2.8},{"d":22.037,"e":2.66},{"d":22.165,"e":2.5},{"d":22.216,"e":1.9},{"d":22.242,"e":1.18},{"d":22.293,"e":2.22},{"d":22.344,"e":1.9},{"d":22.421,"e":2.5},{"d":22.55,"e":2.8},{"d":22.678,"e":2.96},{"d":22.806,"e":2.87},{"d":22.935,"e":2.75},{"d":23.0,"e":2.5}]
},
"vconcat": [
{
"width": 584, "height": 45,
"layer": [
{"data": {"name": "xr"}, "mark": {"type": "line", "color": "#ff00ff", "strokeWidth": 1, "clip": true},
 "encoding": {
  "x": {"field": "d", "type": "quantitative", "scale": {"domain": [8, 23], "nice": false, "zero": false}, "axis": {"values": [9,10,11,12,13,14,15,16,17,18,19,20,21,22], "labels": false, "title": null}},
  "y": {"field": "l", "type": "quantitative", "scale": {"domain": [-7, -3], "nice": false, "zero": false}, "axis": {"values": [-6, -5, -4], "labelExpr": "datum.value == -4 ? 'X' : datum.value == -5 ? 'M' : 'C'", "labelOverlap": false, "title": null}}}},
{"data": {"name": "fl"}, "mark": {"type": "point", "shape": "circle", "size": 32, "filled": false, "color": "#0000ff", "strokeWidth": 1.2, "opacity": 1},
 "encoding": {"x": {"field": "d", "type": "quantitative"}, "y": {"field": "l", "type": "quantitative", "axis": {"values": [-6, -5, -4], "labelExpr": "datum.value == -4 ? 'X' : datum.value == -5 ? 'M' : 'C'", "labelOverlap": false, "title": null}}}},
{"data": {"name": "one"}, "mark": {"type": "text", "text": "rt", "align": "left", "baseline": "top", "dx": 4, "dy": 5, "fontSize": 10, "font": "DejaVu Sans", "color": "#000000"},
 "encoding": {"x": {"datum": 23, "type": "quantitative"}, "y": {"datum": -3, "type": "quantitative", "axis": {"values": [-6, -5, -4], "labelExpr": "datum.value == -4 ? 'X' : datum.value == -5 ? 'M' : 'C'", "labelOverlap": false, "title": null}}}}
]
},
{
"width": 584, "height": 45,
"layer": [
{"data": {"name": "sw"}, "mark": {"type": "line", "color": "#00f000", "strokeWidth": 1.8, "clip": true},
 "encoding": {
  "x": {"field": "d", "type": "quantitative", "scale": {"domain": [8, 23], "nice": false, "zero": false}, "axis": {"values": [9,10,11,12,13,14,15,16,17,18,19,20,21,22], "labels": false, "title": null}},
  "y": {"field": "v", "type": "quantitative", "scale": {"domain": [300, 800], "nice": false, "zero": false}, "axis": {"values": [400, 500, 600, 700], "labelExpr": "datum.value + ''", "labelOverlap": false, "labelFontSize": 9, "title": null}}}},
{"data": {"name": "one"}, "mark": {"type": "text", "text": "rt", "align": "left", "baseline": "top", "dx": 4, "dy": 5, "fontSize": 10, "font": "DejaVu Sans", "color": "#000000"},
 "encoding": {"x": {"datum": 23, "type": "quantitative"}, "y": {"datum": 800, "type": "quantitative", "axis": {"values": [400, 500, 600, 700], "labelExpr": "datum.value + ''", "labelOverlap": false, "labelFontSize": 9, "title": null}}}}
]
},
{
"width": 584, "height": 45,
"layer": [
{"data": {"name": "gy"}, "mark": {"type": "line", "color": "#cfcfcf", "strokeWidth": 1.6, "clip": true},
 "encoding": {
  "x": {"field": "d", "type": "quantitative", "scale": {"domain": [8, 23], "nice": false, "zero": false}, "axis": {"values": [9,10,11,12,13,14,15,16,17,18,19,20,21,22], "labels": false, "title": null}},
  "y": {"field": "s", "type": "quantitative", "scale": {"domain": [-2.08, 2.08], "nice": false, "zero": false}, "axis": {"values": [-1, 1], "labelExpr": "datum.value > 0 ? 'T' : 'A'", "labelOverlap": false, "title": null}},
  "detail": {"field": "g", "type": "nominal"}}},
{"data": {"name": "lb"}, "mark": {"type": "line", "color": "#a6e6f8", "strokeWidth": 1.6, "clip": true},
 "encoding": {"x": {"field": "d", "type": "quantitative"}, "y": {"field": "s", "type": "quantitative", "axis": {"values": [-1, 1], "labelExpr": "datum.value > 0 ? 'T' : 'A'", "labelOverlap": false, "title": null}}, "detail": {"field": "g", "type": "nominal"}}},
{"data": {"name": "pk"}, "mark": {"type": "line", "color": "#f4b2ee", "strokeWidth": 1.6, "clip": true},
 "encoding": {"x": {"field": "d", "type": "quantitative"}, "y": {"field": "s", "type": "quantitative", "axis": {"values": [-1, 1], "labelExpr": "datum.value > 0 ? 'T' : 'A'", "labelOverlap": false, "title": null}}, "detail": {"field": "g", "type": "nominal"}}},
{"data": {"name": "z"}, "mark": {"type": "line", "color": "#808080", "strokeWidth": 1.5},
 "encoding": {"x": {"field": "d", "type": "quantitative"}, "y": {"datum": 0, "type": "quantitative", "axis": {"values": [-1, 1], "labelExpr": "datum.value > 0 ? 'T' : 'A'", "labelOverlap": false, "title": null}}}},
{"data": {"name": "secG"}, "mark": {"type": "line", "color": "#4f8a4f", "strokeWidth": 1.5},
 "encoding": {"x": {"field": "d", "type": "quantitative"}, "y": {"field": "s", "type": "quantitative", "axis": {"values": [-1, 1], "labelExpr": "datum.value > 0 ? 'T' : 'A'", "labelOverlap": false, "title": null}}, "detail": {"field": "g", "type": "nominal"}}},
{"data": {"name": "secT"}, "mark": {"type": "line", "color": "#3344dd", "strokeWidth": 1.5},
 "encoding": {"x": {"field": "d", "type": "quantitative"}, "y": {"field": "s", "type": "quantitative", "axis": {"values": [-1, 1], "labelExpr": "datum.value > 0 ? 'T' : 'A'", "labelOverlap": false, "title": null}}, "detail": {"field": "g", "type": "nominal"}}},
{"data": {"name": "secA"}, "mark": {"type": "line", "color": "#cc2222", "strokeWidth": 1.5},
 "encoding": {"x": {"field": "d", "type": "quantitative"}, "y": {"field": "s", "type": "quantitative", "axis": {"values": [-1, 1], "labelExpr": "datum.value > 0 ? 'T' : 'A'", "labelOverlap": false, "title": null}}, "detail": {"field": "g", "type": "nominal"}}},
{"data": {"name": "one"}, "mark": {"type": "text", "text": "rt", "align": "left", "baseline": "top", "dx": 4, "dy": 5, "fontSize": 10, "font": "DejaVu Sans", "color": "#000000"},
 "encoding": {"x": {"datum": 23, "type": "quantitative"}, "y": {"datum": 2.08, "type": "quantitative", "axis": {"values": [-1, 1], "labelExpr": "datum.value > 0 ? 'T' : 'A'", "labelOverlap": false, "title": null}}}}
]
},
{
"width": 584, "height": 45,
"layer": [
{"data": {"name": "bt"}, "mark": {"type": "line", "color": "#0000ff", "strokeWidth": 1.5, "clip": true},
 "encoding": {
  "x": {"field": "d", "type": "quantitative", "scale": {"domain": [8, 23], "nice": false, "zero": false}, "axis": {"values": [9,10,11,12,13,14,15,16,17,18,19,20,21,22], "labels": false, "title": null}},
  "y": {"field": "b", "type": "quantitative", "scale": {"domain": [-20, 20], "nice": false, "zero": false}, "axis": {"values": [-10, 0, 10], "labelExpr": "datum.value + ''", "labelOverlap": false, "title": null}},
  "detail": {"field": "g", "type": "nominal"}}},
{"data": {"name": "bz"}, "mark": {"type": "line", "color": "#ff0000", "strokeWidth": 1.5, "clip": true},
 "encoding": {"x": {"field": "d", "type": "quantitative"}, "y": {"field": "b", "type": "quantitative", "axis": {"values": [-10, 0, 10], "labelExpr": "datum.value + ''", "labelOverlap": false, "title": null}}}},
{"data": {"name": "z"}, "mark": {"type": "line", "color": "#b00000", "strokeWidth": 1.5},
 "encoding": {"x": {"field": "d", "type": "quantitative"}, "y": {"datum": 0, "type": "quantitative", "axis": {"values": [-10, 0, 10], "labelExpr": "datum.value + ''", "labelOverlap": false, "title": null}}}},
{"data": {"name": "one"}, "mark": {"type": "text", "text": "rt", "align": "left", "baseline": "top", "dx": 4, "dy": 5, "fontSize": 10, "font": "DejaVu Sans", "color": "#000000"},
 "encoding": {"x": {"datum": 23, "type": "quantitative"}, "y": {"datum": 20, "type": "quantitative", "axis": {"values": [-10, 0, 10], "labelExpr": "datum.value + ''", "labelOverlap": false, "title": null}}}}
]
},
{
"width": 584, "height": 45,
"layer": [
{"data": {"name": "z"}, "mark": {"type": "line", "color": "#b00000", "strokeWidth": 1.5},
 "encoding": {
  "x": {"field": "d", "type": "quantitative", "scale": {"domain": [8, 23], "nice": false, "zero": false}, "axis": {"values": [9,10,11,12,13,14,15,16,17,18,19,20,21,22], "labels": false, "title": null}},
  "y": {"datum": 0, "type": "quantitative", "scale": {"domain": [-200, 100], "nice": false, "zero": false}, "axis": {"values": [-100, 0], "labelExpr": "datum.value + ''", "labelOverlap": false, "title": null}}}}
]
},
{
"width": 584, "height": 45,
"layer": [
{"data": {"name": "z"}, "mark": {"type": "line", "color": "#ffffff", "strokeOpacity": 0},
 "encoding": {
  "x": {"field": "d", "type": "quantitative", "scale": {"domain": [8, 23], "nice": false, "zero": false}, "axis": {"values": [9,10,11,12,13,14,15,16,17,18,19,20,21,22], "labels": false, "title": null}},
  "y": {"datum": 0, "type": "quantitative", "scale": {"domain": [0, 80], "nice": false, "zero": false}, "axis": {"values": [20, 40, 60], "labelExpr": "datum.value + ''", "labelOverlap": false, "title": null}}}}
]
},
{
"width": 584, "height": 45,
"layer": [
{"data": {"name": "e2"}, "mark": {"type": "line", "color": "#ff0000", "strokeWidth": 1.5, "clip": true},
 "encoding": {
  "x": {"field": "d", "type": "quantitative", "scale": {"domain": [8, 23], "nice": false, "zero": false}, "axis": {"values": [8,9,10,11,12,13,14,15,16,17,18,19,20,21,22], "labels": true, "labelExpr": "'7/' + datum.value", "labelOffset": 19.5, "labelFontSize": 11, "labelPadding": 2, "labelAlign": "center", "labelBaseline": "top", "labelOverlap": false, "title": "2012", "titleX": -28, "titleY": 2, "titleAlign": "left", "titleBaseline": "top", "titleFontSize": 10.5, "titleFontWeight": "normal", "titleFont": "DejaVu Sans", "titleColor": "#000000"}},
  "y": {"field": "e", "type": "quantitative", "scale": {"domain": [1, 5], "nice": false, "zero": false}, "axis": {"values": [2, 3, 4], "labelExpr": "datum.value == 4 ? '10⁴' : datum.value == 3 ? '10³' : '10²'", "labelOverlap": false, "title": null}}}},
{"data": {"name": "e1"}, "mark": {"type": "line", "color": "#0000ff", "strokeWidth": 1.5, "clip": true},
 "encoding": {"x": {"field": "d", "type": "quantitative"}, "y": {"field": "e", "type": "quantitative", "axis": {"values": [2, 3, 4], "labelExpr": "datum.value == 4 ? '10⁴' : datum.value == 3 ? '10³' : '10²'", "labelOverlap": false, "title": null}}}},
{"data": {"name": "z"}, "mark": {"type": "line", "color": "#b00000", "strokeWidth": 1.5, "strokeDash": [9, 3, 3, 3]},
 "encoding": {"x": {"field": "d", "type": "quantitative"}, "y": {"datum": 4, "type": "quantitative", "axis": {"values": [2, 3, 4], "labelExpr": "datum.value == 4 ? '10⁴' : datum.value == 3 ? '10³' : '10²'", "labelOverlap": false, "title": null}}}},
{"data": {"name": "one"}, "mark": {"type": "text", "text": "rt", "align": "left", "baseline": "top", "dx": 4, "dy": 5, "fontSize": 10, "font": "DejaVu Sans", "color": "#000000"},
 "encoding": {"x": {"datum": 23, "type": "quantitative"}, "y": {"datum": 5, "type": "quantitative", "axis": {"values": [2, 3, 4], "labelExpr": "datum.value == 4 ? '10⁴' : datum.value == 3 ? '10³' : '10²'", "labelOverlap": false, "title": null}}}}
]
}
],
"config": {
 "font": "DejaVu Sans",
 "view": {"stroke": "#000000", "strokeWidth": 2},
 "axis": {"grid": true, "gridColor": "#000000", "gridDash": [1, 3.5], "gridOpacity": 1, "gridWidth": 1, "domain": false, "ticks": false, "tickSize": 0, "labelFont": "DejaVu Sans", "labelFontSize": 10.5, "labelColor": "#000000", "labelPadding": 3, "labelFlush": false, "labelOverlap": false}
}
}
